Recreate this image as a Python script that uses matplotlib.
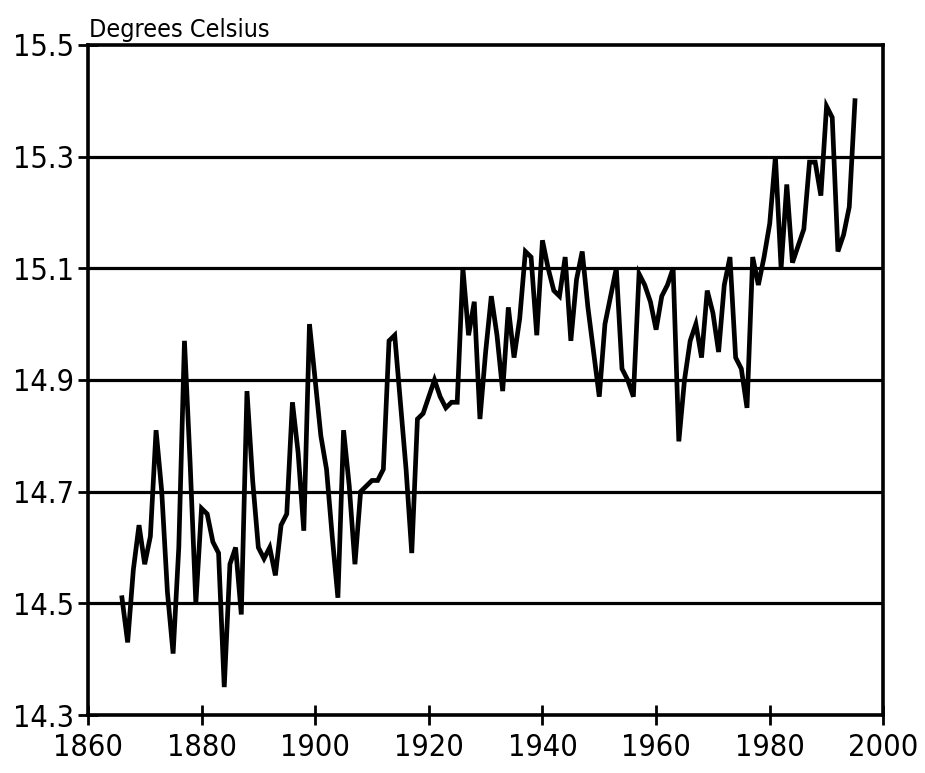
#!/usr/bin/env python3

import numpy as np
import matplotlib
matplotlib.use('Agg')
import matplotlib.pyplot as plt

# Global average temperature (annual values).
first_year = 1866
temp_c = [
    14.51, 14.43, 14.56, 14.64, 14.57, 14.62, 14.81, 14.70, 14.52, 14.41,   # 1866-1875
    14.60, 14.97, 14.75, 14.50, 14.67, 14.66, 14.61, 14.59, 14.35, 14.57,   # 1876-1885
    14.60, 14.48, 14.88, 14.72, 14.60, 14.58, 14.60, 14.55, 14.64, 14.66,   # 1886-1895
    14.86, 14.77, 14.63, 15.00, 14.90, 14.80, 14.74, 14.62, 14.51, 14.81,   # 1896-1905
    14.71, 14.57, 14.70, 14.71, 14.72, 14.72, 14.74, 14.97, 14.98, 14.86,   # 1906-1915
    14.74, 14.59, 14.83, 14.84, 14.87, 14.90, 14.87, 14.85, 14.86, 14.86,   # 1916-1925
    15.10, 14.98, 15.04, 14.83, 14.95, 15.05, 14.98, 14.88, 15.03, 14.94,   # 1926-1935
    15.01, 15.13, 15.12, 14.98, 15.15, 15.10, 15.06, 15.05, 15.12, 14.97,   # 1936-1945
    15.08, 15.13, 15.03, 14.95, 14.87, 15.00, 15.05, 15.10, 14.92, 14.90,   # 1946-1955
    14.87, 15.09, 15.07, 15.04, 14.99, 15.05, 15.07, 15.10, 14.79, 14.90,   # 1956-1965
    14.97, 15.00, 14.94, 15.06, 15.02, 14.95, 15.07, 15.12, 14.94, 14.92,   # 1966-1975
    14.85, 15.12, 15.07, 15.12, 15.18, 15.30, 15.10, 15.25, 15.11, 15.14,   # 1976-1985
    15.17, 15.29, 15.29, 15.23, 15.39, 15.37, 15.13, 15.16, 15.21, 15.40,   # 1986-1995
]
years = np.arange(first_year, first_year + len(temp_c))

x_ticks = [1860, 1880, 1900, 1920, 1940, 1960, 1980, 2000]
y_ticks = [14.3, 14.5, 14.7, 14.9, 15.1, 15.3, 15.5]
y_label = 'Degrees Celsius'


def plot_temperature(ax):
    # horizontal rules at every labelled value
    for v in y_ticks[1:-1]:
        ax.axhline(v, color = 'black', linewidth = 2.3, zorder = 1)

    ax.plot(years, temp_c, color = 'black', linewidth = 3.4,
            solid_joinstyle = 'miter', zorder = 2)

    ax.set_xlim(1860, 2000)
    ax.set_ylim(14.3, 15.5)
    ax.set_xticks(x_ticks)
    ax.set_yticks(y_ticks)
    ax.set_xticklabels([str(x) for x in x_ticks],
                       fontsize = 22, fontstretch = 'condensed')
    ax.set_yticklabels([f'{v:.1f}' for v in y_ticks],
                       fontsize = 22, fontstretch = 'condensed')

    for side in ('left', 'right', 'top', 'bottom'):
        ax.spines[side].set_linewidth(2.6)
        ax.spines[side].set_color('black')

    ax.tick_params(axis = 'both', direction = 'inout', length = 14,
                   width = 2.0, colors = 'black')
    ax.tick_params(axis = 'x', pad = 6)
    ax.tick_params(axis = 'y', pad = 3)

    ax.text(0.002, 1.004, y_label, transform = ax.transAxes,
            ha = 'left', va = 'bottom', fontsize = 18,
            fontstretch = 'condensed')


def main():
    plt.rcParams['font.family'] = ['DejaVu Sans']
    fig = plt.figure(figsize = (9.25, 7.73), dpi = 100)
    ax = fig.add_axes([0.095, 0.075, 0.86, 0.867])
    plot_temperature(ax)
    fig.savefig('out.png', dpi = 100, facecolor = 'white')


if __name__ == '__main__':
    main()
